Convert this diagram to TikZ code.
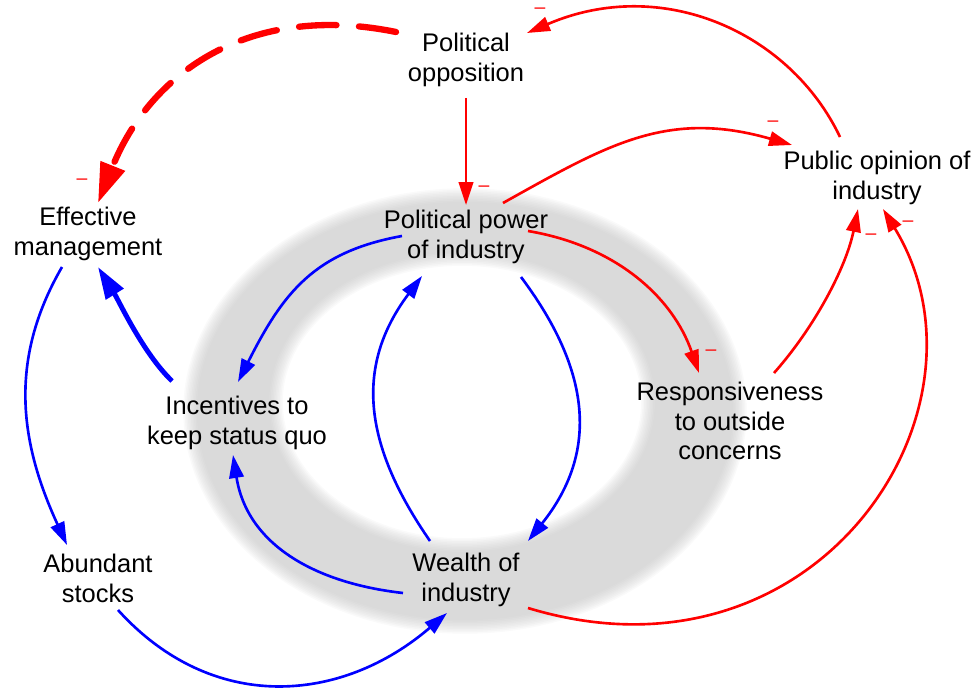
\documentclass[tikz,border=0pt]{standalone}
\usepackage{fontspec}
\setmainfont{Liberation Sans}
\usetikzlibrary{arrows.meta}
\definecolor{linkred}{RGB}{255,0,0}
\definecolor{linkblue}{RGB}{0,0,255}
\definecolor{ringgray}{RGB}{191,191,191}
\begin{document}
\begin{tikzpicture}[x=0.02cm,y=0.02cm,
  var/.style={align=center,inner sep=0pt,font=\fontsize{14.5}{17}\selectfont},
  sign/.style={text=linkred,inner sep=0pt,font=\fontsize{11}{11}\selectfont},
  link/.style={line width=1.5pt,-{Triangle[length=0.46cm,width=0.29cm]}},
  bluelink/.style={link,draw=linkblue},
  redlink/.style={link,draw=linkred},
  stronglink/.style={line width=2.8pt,draw=linkblue,-{Triangle[length=0.64cm,width=0.4cm]}},
  delaylink/.style={line width=3.6pt,draw=linkred,line cap=round,dash pattern=on 0.75cm off 0.45cm,-{Triangle[length=0.8cm,width=0.5cm]}},
]
\useasboundingbox (0,0) rectangle (973,-689);

% soft grey ring behind the core loop, built from thin translucent layers
\foreach \d in {-0.135,-0.105,-0.075,-0.045,-0.015,0.015,0.045,0.075,0.105,0.135}{
  \pgfmathsetmacro{\ox}{5.5+\d}
  \pgfmathsetmacro{\oy}{4.32+\d}
  \pgfmathsetmacro{\ix}{3.72-\d}
  \pgfmathsetmacro{\iy}{2.86-\d}
  \fill[ringgray,opacity=0.084,even odd rule]
    (465,-411) ellipse [x radius=\ox cm, y radius=\oy cm]
    (462,-402) ellipse [x radius=\ix cm, y radius=\iy cm];
}

% variables
\node[var] (po)  at (466,-60)  {Political\\opposition};
\node[var] (em)  at (88,-234)  {Effective\\management};
\node[var] (pub) at (877,-178) {Public opinion of\\industry};
\node[var] (pp)  at (466,-237) {Political power\\of industry};
\node[var] (res) at (730,-421) {Responsiveness\\to outside\\concerns};
\node[var] (inc) at (237,-423) {Incentives to\\keep status quo};
\node[var] (ab)  at (98,-578)  {Abundant\\stocks};
\node[var] (we)  at (466,-580) {Wealth of\\industry};

% polarity marks
\node[sign] (s1) at (540,-11)  {–};
\node[sign] (s2) at (82,-182)  {–};
\node[sign] (s3) at (484,-189) {–};
\node[sign] (s4) at (773,-124) {–};
\node[sign] (s5) at (711,-353) {–};
\node[sign] (s6) at (871,-237) {–};
\node[sign] (s7) at (908,-224) {–};

% links
\draw[delaylink] ([shift={(-70,28)}]po.center) .. controls +(-147,30) and +(52,130) .. ([shift={(10,31)}]em.center);
\draw[redlink] ([shift={(-37,41)}]pub.center) .. controls +(-50,105) and +(135,58) .. ([shift={(61,27)}]po.center);
\draw[redlink] ([shift={(0,-38)}]po.center) -- ([shift={(0,32)}]pp.center);
\draw[redlink] ([shift={(37,34)}]pp.center) .. controls +(104,58) and +(-125,36) .. ([shift={(-85,33)}]pub.center);
\draw[redlink] ([shift={(62,6)}]pp.center) .. controls +(89,-15) and +(-26,75) .. ([shift={(-31,48)}]res.center);
\draw[redlink] ([shift={(44,48)}]res.center) .. controls +(40,45) and +(-12,-59) .. ([shift={(-19,-31)}]pub.center);
\draw[redlink] ([shift={(62,-28)}]we.center) .. controls +(290,-88) and +(122,-200) .. ([shift={(6,-31)}]pub.center);

\draw[bluelink] ([shift={(-64,1)}]pp.center) .. controls +(-88,-16) and +(45,89) .. ([shift={(1,41)}]inc.center);
\draw[bluelink] ([shift={(-63,-13)}]we.center) .. controls +(-89,10) and +(14,-89) .. ([shift={(-4,-32)}]inc.center);
\draw[bluelink] ([shift={(-36,39)}]we.center) .. controls +(-65,94) and +(-69,-92) .. ([shift={(-44,-39)}]pp.center);
\draw[bluelink] ([shift={(55,-40)}]pp.center) .. controls +(69,-92) and +(72,90) .. ([shift={(62,39)}]we.center);
\draw[stronglink] ([shift={(-65,42)}]inc.center) .. controls +(-29,28) and +(21,-34) .. ([shift={(10,-33)}]em.center);
\draw[bluelink] ([shift={(-26,-33)}]em.center) .. controls +(-55,-95) and +(-46,100) .. ([shift={(-31,33)}]ab.center);
\draw[bluelink] ([shift={(20,-32)}]ab.center) .. controls +(94,-104) and +(-106,-91) .. ([shift={(-19,-33)}]we.center);
\end{tikzpicture}
\end{document}
